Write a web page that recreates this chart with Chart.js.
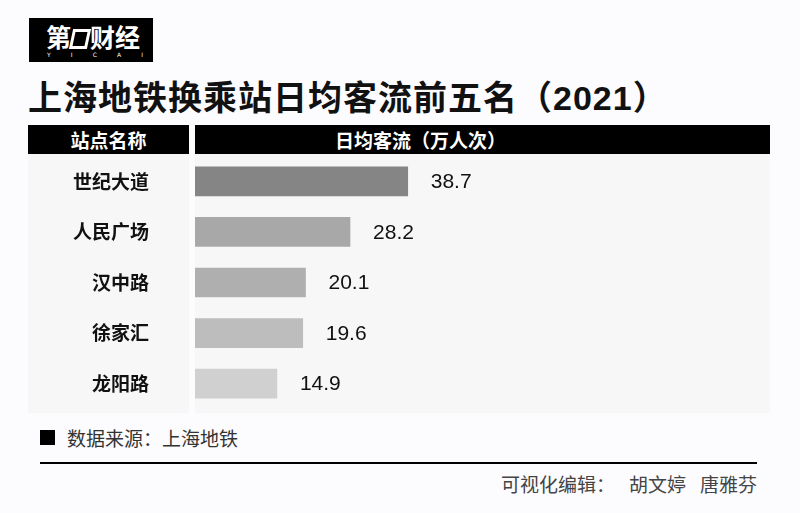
<!DOCTYPE html>
<html lang="zh-CN">
<head>
<meta charset="UTF-8">
<title>上海地铁换乘站日均客流前五名（2021）</title>
<script src="https://cdn.jsdelivr.net/npm/chart.js@4.4.7/dist/chart.umd.min.js"></script>
<style>
*{box-sizing:border-box;margin:0;padding:0}
html,body{width:800px;height:513px;overflow:hidden}
body{background:#fcfbfd;font-family:'Noto Sans CJK SC','Noto Sans',sans-serif;position:relative;color:#111}
.abs{position:absolute}
.logo{left:29px;top:18px;width:124px;height:44px;background:#000;color:#fff}
.logo .cn{position:absolute;left:17px;top:3px;font-size:25px;font-weight:700;line-height:30px;letter-spacing:0;white-space:nowrap}
.logo .slash{display:inline-block;width:18px;height:20px;border:3px solid #fff;transform:skewX(-12deg);vertical-align:-2px;margin:0 1px 0 0}
.logo .en{position:absolute;left:18px;top:34px;width:96px;font-size:6px;line-height:6px;font-family:'DejaVu Sans',sans-serif;display:flex;justify-content:space-between}
h1{left:28px;top:76px;font-size:34px;line-height:44px;font-weight:700;letter-spacing:1px;white-space:nowrap;font-family:'Liberation Sans','Noto Sans CJK SC',sans-serif}
.hd{top:125px;height:29px;background:#000;color:#fff;font-size:19px;font-weight:700;line-height:29px}
.panel{top:154px;height:259px;background:#f7f7f7}
#wrap{left:28px;top:154px;width:742px;height:259px}
.src{left:67px;top:426px;font-size:19px;line-height:24px;color:#333;white-space:nowrap}
.sq{left:40px;top:430px;width:15px;height:15px;background:#000}
.rule{left:40px;top:462px;width:717px;height:2px;background:#000}
.ed{right:43px;top:472px;font-size:19px;line-height:24px;color:#444;white-space:nowrap}
.ed span{margin-left:14px}
</style>
</head>
<body>
<div class="abs logo"><div class="cn">第<span class="slash"></span>财经</div><div class="en"><span>Y</span><span>I</span><span>C</span><span>A</span><span>I</span></div></div>
<h1 class="abs">上海地铁换乘站日均客流前五名（2021）</h1>
<div class="abs hd" style="left:28px;width:161px;text-align:center">站点名称</div>
<div class="abs hd" style="left:195px;width:575px;padding-left:140px">日均客流（万人次）</div>
<div class="abs panel" style="left:28px;width:161px"></div>
<div class="abs panel" style="left:195px;width:575px"></div>
<div class="abs" id="wrap"><canvas id="c"></canvas></div>
<div class="abs sq"></div>
<div class="abs src">数据来源：上海地铁</div>
<div class="abs rule"></div>
<div class="abs ed">可视化编辑：<span>胡文婷</span><span>唐雅芬</span></div>

<script>
const stations = ['世纪大道', '人民广场', '汉中路', '徐家汇', '龙阳路'];
const dailyFlow = [38.7, 28.2, 20.1, 19.6, 14.9];
const barColors = ['#858585', '#a8a8a8', '#b0afaf', '#bdbdbd', '#d0d0d0'];

// number to the right of each bar
const valueLabels = {
  id: 'valueLabels',
  afterDatasetsDraw(chart) {
    const ctx = chart.ctx;
    const meta = chart.getDatasetMeta(0);
    ctx.save();
    ctx.font = '21px "Liberation Sans", Arial, sans-serif';
    ctx.fillStyle = '#111';
    ctx.textAlign = 'left';
    ctx.textBaseline = 'middle';
    meta.data.forEach((bar, i) => {
      ctx.fillText(dailyFlow[i].toFixed(1), bar.x + 23, bar.y + 1);
    });
    ctx.restore();
  }
};

new Chart(document.getElementById('c'), {
  type: 'bar',
  data: {
    labels: stations,
    datasets: [{
      data: dailyFlow,
      backgroundColor: barColors,
      barThickness: 29,
      borderWidth: 0,
    }]
  },
  options: {
    indexAxis: 'y',
    responsive: true,
    maintainAspectRatio: false,
    animation: false,
    layout: { padding: { top: 2, bottom: 4, left: 0, right: 0 } },
    plugins: { legend: { display: false }, tooltip: { enabled: false } },
    scales: {
      x: { display: false, min: 0, max: 104.6 },
      y: {
        afterFit: (s) => {
          s.width = 167;
          s.paddingTop = 0;
          s.paddingBottom = 0;
        },
        // tick marks are not drawn, tickLength only pushes the labels left
        grid: { display: false, drawTicks: true, tickLength: 46 },
        border: { display: false },
        ticks: {
          crossAlign: 'near',
          padding: 0,
          color: '#111',
          font: { family: "'Noto Sans CJK SC', sans-serif", size: 19, weight: 'bold' },
        },
      },
    },
  },
  plugins: [valueLabels],
});
</script>
</body>
</html>
